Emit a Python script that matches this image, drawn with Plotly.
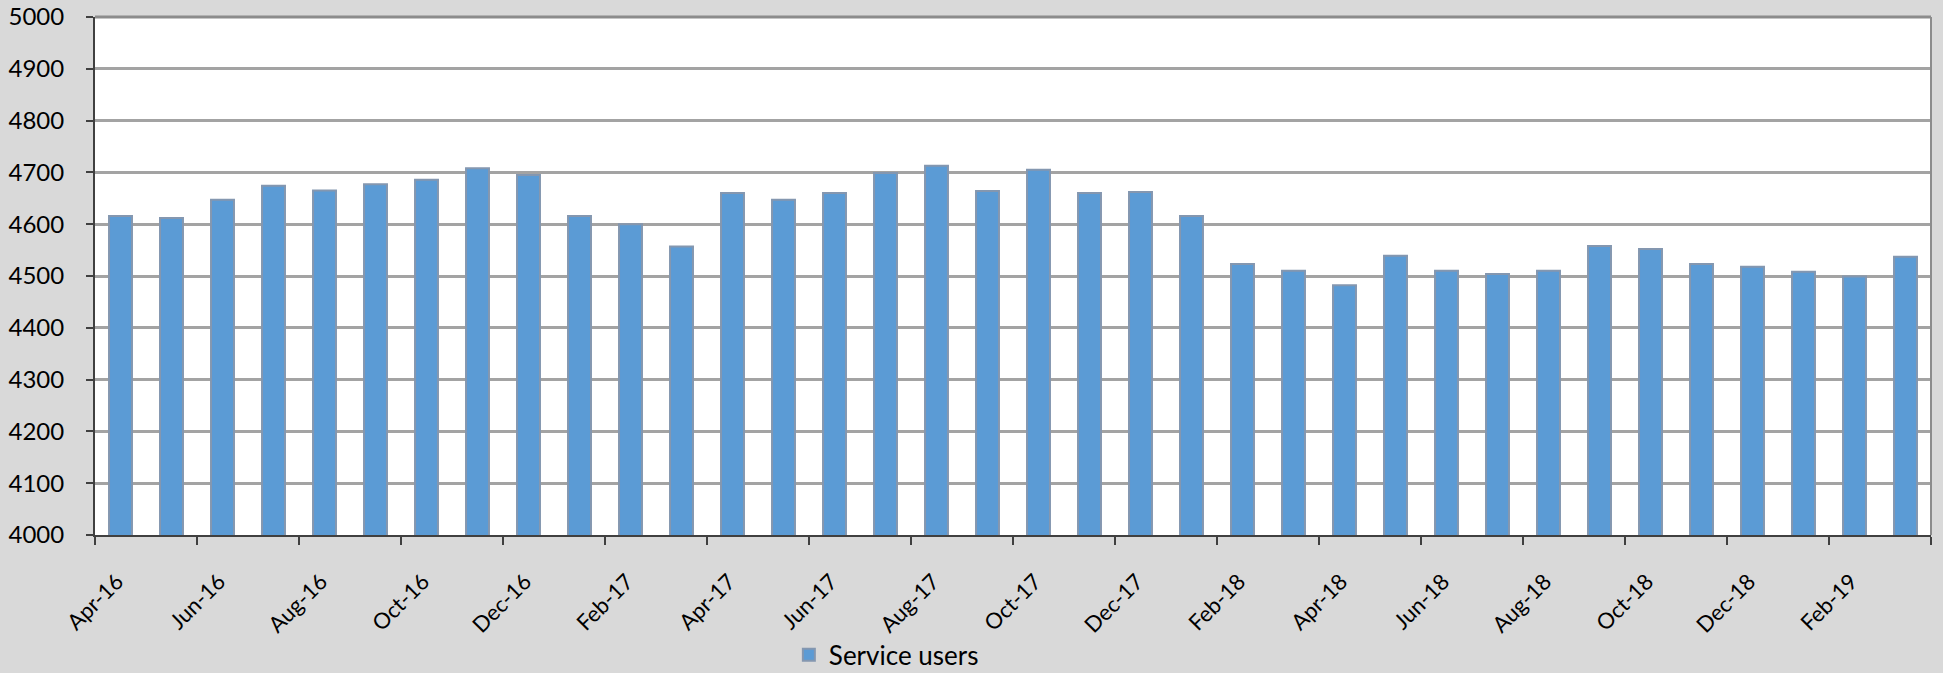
import plotly.graph_objects as go

months = ["Apr-16", "May-16", "Jun-16", "Jul-16", "Aug-16", "Sep-16", "Oct-16", "Nov-16", "Dec-16",
          "Jan-17", "Feb-17", "Mar-17", "Apr-17", "May-17", "Jun-17", "Jul-17", "Aug-17", "Sep-17",
          "Oct-17", "Nov-17", "Dec-17", "Jan-18", "Feb-18", "Mar-18", "Apr-18", "May-18", "Jun-18",
          "Jul-18", "Aug-18", "Sep-18", "Oct-18", "Nov-18", "Dec-18", "Jan-19", "Feb-19", "Mar-19"]
service_users = [4616, 4612, 4647, 4674, 4665, 4677, 4686, 4708, 4695,
                 4616, 4600, 4557, 4660, 4647, 4660, 4699, 4713, 4664,
                 4705, 4660, 4662, 4616, 4523, 4510, 4482, 4539, 4510,
                 4504, 4510, 4558, 4552, 4523, 4518, 4508, 4499, 4537]
y_ticks = [4000, 4100, 4200, 4300, 4400, 4500, 4600, 4700, 4800, 4900, 5000]

n = len(months)
x_pos = [i + 0.5 for i in range(n)]
tick_pos = list(range(0, n + 1, 2))
tick_text = [months[i] if i < n else "" for i in tick_pos]

FONT = "Lato, Carlito, 'Noto Sans', sans-serif"

fig = go.Figure()
fig.add_trace(go.Bar(
    x=x_pos, y=service_users, name="Service users",
    marker=dict(color="#5b9bd5", line=dict(color="#8497b0", width=2)),
))

fig.update_layout(
    width=1943, height=673,
    paper_bgcolor="#d9d9d9", plot_bgcolor="#ffffff",
    margin=dict(l=95, r=12, t=17, b=138, autoexpand=False),
    bargap=0.55,
    font=dict(family=FONT, size=22, color="#000000"),
    showlegend=True,
    legend=dict(orientation="h", xref="container", yref="container",
                x=0.406, xanchor="left", y=0.027, yanchor="middle",
                bgcolor="rgba(0,0,0,0)", font=dict(size=26), itemwidth=30,
                tracegroupgap=0),
)
fig.update_xaxes(
    range=[0, n], tickmode="array", tickvals=tick_pos, ticktext=tick_text,
    tickangle=-45, ticks="outside", ticklen=8, tickwidth=1.5, tickcolor="#404040",
    ticklabelshift=22, ticklabelstandoff=15,
    showgrid=False, showline=True, linecolor="#404040", linewidth=2,
    tickfont=dict(size=22), zeroline=False, automargin=False,
)
fig.update_yaxes(
    range=[4000, 5000], tickmode="array", tickvals=y_ticks,
    ticks="outside", ticklen=7, tickwidth=1.5, tickcolor="#404040",
    ticklabelstandoff=17,
    showgrid=True, gridcolor="#a3a3a3", gridwidth=2.5,
    showline=True, linecolor="#404040", linewidth=2,
    tickfont=dict(size=24), zeroline=False, automargin=False,
)
fig.add_shape(type="line", xref="paper", yref="paper", x0=0, x1=1, y0=1, y1=1,
              line=dict(color="#8c8c8c", width=3), layer="above")
fig.add_shape(type="line", xref="paper", yref="paper", x0=1, x1=1, y0=0, y1=1,
              line=dict(color="#8c8c8c", width=2), layer="above")

fig.write_html("out.html", config={"displayModeBar": False},
               post_script="document.body.style.margin='0px';")
